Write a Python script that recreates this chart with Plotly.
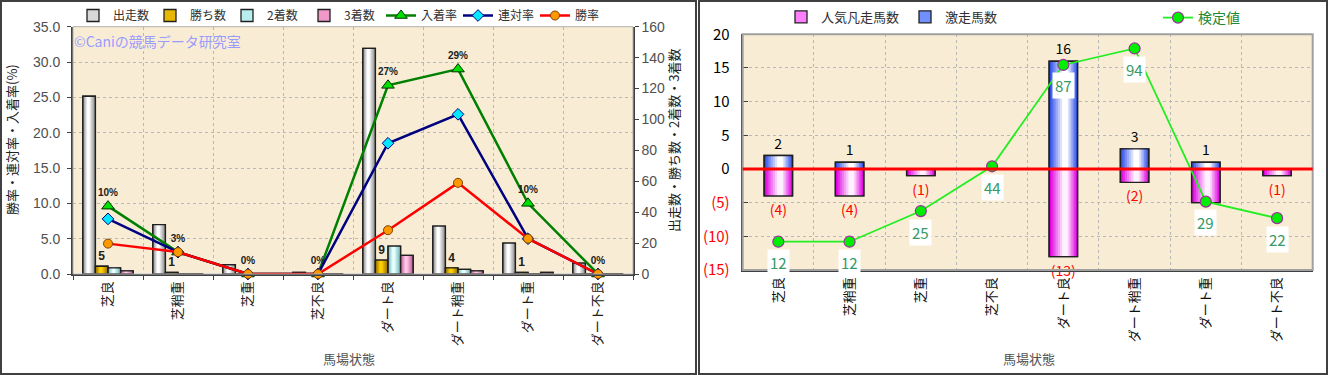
import plotly.graph_objects as go

# ---------------- data ----------------
categories = ["芝良", "芝稍重", "芝重", "芝不良", "ダート良", "ダート稍重", "ダート重", "ダート不良"]

starts = [115, 32, 6, 1, 146, 31, 20, 7]          # 出走数
wins = [5, 1, 0, 0, 9, 4, 1, 0]                    # 勝ち数
seconds = [4, 0, 0, 0, 18, 3, 0, 0]                # 2着数
thirds = [2, 0, 0, 0, 12, 2, 1, 0]                 # 3着数
place_rate = [9.6, 3.1, 0, 0, 26.7, 29.0, 10.0, 0]     # 入着率 (%)
quinella_rate = [7.8, 3.1, 0, 0, 18.5, 22.6, 5.0, 0]   # 連対率 (%)
win_rate = [4.3, 3.1, 0, 0, 6.2, 12.9, 5.0, 0]         # 勝率 (%)
place_labels = ["10%", "3%", "0%", "0%", "27%", "29%", "10%", "0%"]
win_labels = ["5", "1", "", "", "9", "4", "1", ""]

popular_fail = [-4, -4, -1, 0, -13, -2, -5, -1]    # 人気凡走馬数
surge = [2, 1, 0, 0, 16, 3, 1, 0]                  # 激走馬数
test_values = [12, 12, 25, 44, 87, 94, 29, 22]     # 検定値
surge_labels = ["2", "1", "", "", "16", "3", "1", ""]
fail_labels = ["(4)", "(4)", "(1)", "", "(13)", "(2)", "", "(1)"]

pct_ticks = [0, 5, 10, 15, 20, 25, 30, 35]
cnt_ticks = [0, 20, 40, 60, 80, 100, 120, 140, 160]
right_ticks = [-15, -10, -5, 0, 5, 10, 15, 20]
right_ticktext = ["<span style='color:#ff0000'>(15)</span>", "<span style='color:#ff0000'>(10)</span>",
                  "<span style='color:#ff0000'>(5)</span>", "0", "5", "10", "15", "20"]

FONT = "Noto Sans CJK JP"
W, H = 1328, 375


def px(x):
    return x / W


def py(y):
    return 1 - y / H


def hex2rgb(h):
    h = h.lstrip("#")
    return tuple(int(h[i:i + 2], 16) for i in (0, 2, 4))


def make_levels(edge, center, n=7, shift=-0.06):
    e, c = hex2rgb(edge), hex2rgb(center)
    levels = []
    for i in range(n):
        t = i / (n - 1)
        col = "rgb(%d,%d,%d)" % tuple(round(e[k] + (c[k] - e[k]) * t) for k in range(3))
        frac = 1 - 0.8 * t
        levels.append((col, frac, shift * t))
    return levels


fig = go.Figure()


def grad_bar(y, xa, ya, offset, width, levels, name, legend, showlegend, text=None,
             textfont=None, line_color="#202020", legend_color=None):
    for i, (col, frac, shift) in enumerate(levels):
        w = width * frac
        off = offset + (width - w) / 2 + shift * width
        fig.add_trace(go.Bar(
            x=categories, y=y, xaxis=xa, yaxis=ya, offset=off, width=w,
            marker=dict(color=col, line=dict(color=line_color, width=1.3 if i == 0 else 0)),
            name=name, legend=legend, showlegend=False, hoverinfo="skip"))
    fig.add_trace(go.Bar(
        x=categories, y=y, xaxis=xa, yaxis=ya, offset=offset, width=width,
        marker=dict(color="rgba(0,0,0,0)", line=dict(color=line_color, width=1.3)),
        name=name, showlegend=False, text=text, textposition="outside",
        textfont=textfont, cliponaxis=False, hoverinfo="skip"))
    if showlegend:
        fig.add_trace(go.Bar(
            x=[None], y=[None], xaxis=xa, yaxis=ya, name=name, legend=legend,
            marker=dict(color=legend_color, line=dict(color=line_color, width=1.3)),
            showlegend=True, hoverinfo="skip"))


bw = 0.18
grad_bar(starts, "x", "y", -0.36, bw, make_levels("#8c8c8c", "#ffffff"),
         "出走数", "legend", True, legend_color="#d8d8d8")
grad_bar(wins, "x", "y", -0.18, bw, make_levels("#9a7000", "#ffd000"),
         "勝ち数", "legend", True, text=win_labels,
         textfont=dict(family="Liberation Sans", size=12, color="#202020", weight="bold"),
         legend_color="#e8b800")
grad_bar(seconds, "x", "y", 0.0, bw, make_levels("#70b8b8", "#e8ffff"),
         "2着数", "legend", True, legend_color="#b8eeee")
grad_bar(thirds, "x", "y", 0.18, bw, make_levels("#c05898", "#ffc8e6"),
         "3着数", "legend", True, legend_color="#f098c8")

fig.add_trace(go.Scatter(
    x=categories, y=place_rate, xaxis="x", yaxis="y2", mode="lines+markers+text",
    name="入着率", legend="legend",
    line=dict(color="#008000", width=2.5),
    marker=dict(symbol="triangle-up", size=11, color="#00e000", line=dict(color="#003000", width=1)),
    text=place_labels, textposition="top center",
    textfont=dict(family="Liberation Sans", size=10, color="#202020", weight="bold"),
    cliponaxis=False))
fig.add_trace(go.Scatter(
    x=categories, y=quinella_rate, xaxis="x", yaxis="y2", mode="lines+markers",
    name="連対率", legend="legend",
    line=dict(color="#000080", width=2.5),
    marker=dict(symbol="diamond", size=9, color="#00e8ff", line=dict(color="#000080", width=1)),
    cliponaxis=False))
fig.add_trace(go.Scatter(
    x=categories, y=win_rate, xaxis="x", yaxis="y2", mode="lines+markers",
    name="勝率", legend="legend",
    line=dict(color="#ff0000", width=2.5),
    marker=dict(symbol="circle", size=9, color="#ff9900", line=dict(color="#804000", width=1)),
    cliponaxis=False))

# ---------------- right chart ----------------
rbw = 0.4
grad_bar(popular_fail, "x2", "y3", -0.2, rbw, make_levels("#e000e0", "#fff0ff", shift=0.06),
         "人気凡走馬数", "legend2", True, text=fail_labels,
         textfont=dict(family=FONT, size=14, color="#ff0000"), legend_color="#ff80ff")
grad_bar(surge, "x2", "y3", -0.2, rbw, make_levels("#3050e8", "#ffffff", shift=0.06),
         "激走馬数", "legend2", True, text=surge_labels,
         textfont=dict(family=FONT, size=14, color="#000000"), legend_color="#7090ff")

fig.add_trace(go.Scatter(
    x=categories, y=test_values, xaxis="x2", yaxis="y4", mode="lines+markers",
    name="検定値", legend="legend3",
    line=dict(color="#22ee22", width=1.8),
    marker=dict(symbol="circle", size=11, color="#00ee00", line=dict(color="#993399", width=1.2)),
    cliponaxis=False))

annotations = []
for c, v in zip(categories, test_values):
    annotations.append(dict(
        x=c, y=v, xref="x2", yref="y4", text=str(v), showarrow=False, yshift=-21,
        bgcolor="#ffffff", borderpad=2,
        font=dict(family=FONT, size=15, color="#339966")))

annotations += [
    dict(x=px(12), y=py(140), xref="paper", yref="paper", text="勝率・連対率・入着率(%)",
         textangle=-90, showarrow=False, xanchor="center", yanchor="middle",
         font=dict(family=FONT, size=13, color="#202020")),
    dict(x=px(673), y=py(141), xref="paper", yref="paper", text="出走数・勝ち数・2着数・3着数",
         textangle=-90, showarrow=False, xanchor="center", yanchor="middle",
         font=dict(family=FONT, size=13, color="#202020")),
    dict(x=px(349), y=py(358), xref="paper", yref="paper", text="馬場状態",
         showarrow=False, xanchor="center", yanchor="middle",
         font=dict(family=FONT, size=13, color="#505050")),
    dict(x=px(1029), y=py(358), xref="paper", yref="paper", text="馬場状態",
         showarrow=False, xanchor="center", yanchor="middle",
         font=dict(family=FONT, size=13, color="#505050")),
    dict(x=px(72), y=py(41), xref="paper", yref="paper", text="©Caniの競馬データ研究室",
         xanchor="left", yanchor="middle", showarrow=False,
         font=dict(family=FONT, size=14, color="#9b9bff")),
]

shapes = [
    dict(type="rect", xref="paper", yref="paper", x0=px(1), x1=px(696), y0=py(374), y1=py(1),
         line=dict(color="#404040", width=2), layer="below"),
    dict(type="rect", xref="paper", yref="paper", x0=px(699), x1=px(1327), y0=py(374), y1=py(1),
         line=dict(color="#404040", width=2), layer="below"),
    dict(type="rect", xref="x domain", yref="y domain", x0=0, x1=1, y0=0, y1=1,
         line=dict(color="#b0b0b0", width=1), layer="above"),
    dict(type="rect", xref="x2 domain", yref="y3 domain", x0=0, x1=1, y0=0, y1=1,
         line=dict(color="#a0a0a0", width=2), layer="above"),
    dict(type="line", xref="x2 domain", yref="y3", x0=0, x1=1, y0=0, y1=0,
         line=dict(color="#ff0000", width=3), layer="above"),
]

grid = dict(showgrid=True, gridcolor="#b8b8b8", griddash="dot", gridwidth=1)

fig.update_layout(
    width=W, height=H, margin=dict(l=0, r=0, t=0, b=0, autoexpand=False),
    paper_bgcolor="#ffffff", plot_bgcolor="#f8edd4",
    barmode="overlay",
    font=dict(family=FONT, size=13, color="#303030"),
    xaxis=dict(domain=[px(73), px(633)], anchor="y", type="category", tickson="boundaries",
               tickangle=-90, ticks="outside", ticklen=4, tickcolor="#404040",
               showline=True, linecolor="#404040", linewidth=2, automargin=False,
               tickfont=dict(family=FONT, size=13, color="#202020"), **grid),
    yaxis=dict(domain=[py(274), py(26.7)], anchor="x", side="right", range=[0, 160],
               tickvals=cnt_ticks, showgrid=False, showline=True, linecolor="#404040",
               linewidth=1.5, ticks="outside", ticklen=4, tickcolor="#404040", automargin=False,
               tickfont=dict(family="Liberation Sans", size=14, color="#505050")),
    yaxis2=dict(overlaying="y", anchor="x", side="left", range=[0, 35], tickvals=pct_ticks,
                tickformat=".1f", ticksuffix="%", showline=True, linecolor="#404040", linewidth=2,
                ticks="outside", ticklen=4, tickcolor="#404040", zeroline=False, automargin=False,
                ticklabelstandoff=4,
                tickfont=dict(family="Liberation Sans", size=14, color="#505050"), **grid),
    xaxis2=dict(domain=[px(742.7), px(1312.7)], anchor="y3", type="category", tickson="boundaries",
                tickangle=-90, showline=True, linecolor="#404040", linewidth=2, automargin=False,
                tickfont=dict(family=FONT, size=13, color="#101010"), **grid),
    yaxis3=dict(domain=[py(270), py(34.3)], anchor="x2", range=[-15, 20], tickvals=right_ticks,
                ticktext=right_ticktext, showline=True, linecolor="#404040", linewidth=2,
                ticks="inside", ticklen=5, tickcolor="#404040", zeroline=False, automargin=False,
                ticklabelstandoff=8,
                tickfont=dict(family=FONT, size=15, color="#000000"), **grid),
    yaxis4=dict(overlaying="y3", anchor="x2", range=[0, 100], visible=False, showgrid=False),
    legend=dict(orientation="h", x=px(73), y=py(1), xanchor="left", yanchor="top",
                bgcolor="rgba(0,0,0,0)", font=dict(family=FONT, size=12, color="#303030"),
                entrywidth=32, entrywidthmode="pixels", itemwidth=30),
    legend2=dict(orientation="h", x=px(781), y=py(2), xanchor="left", yanchor="top",
                 bgcolor="rgba(0,0,0,0)", font=dict(family=FONT, size=13, color="#303030"),
                 entrywidth=79, entrywidthmode="pixels", itemwidth=30),
    legend3=dict(orientation="h", x=px(1158), y=py(2), xanchor="left", yanchor="top",
                 bgcolor="rgba(0,0,0,0)", font=dict(family=FONT, size=14, color="#228833"),
                 itemwidth=30),
    annotations=annotations,
    shapes=shapes,
    showlegend=True,
)

fig.write_html("out.html", config={"displayModeBar": False},
               post_script="document.body.style.margin='0';"
                           "document.documentElement.style.overflow='hidden';")
